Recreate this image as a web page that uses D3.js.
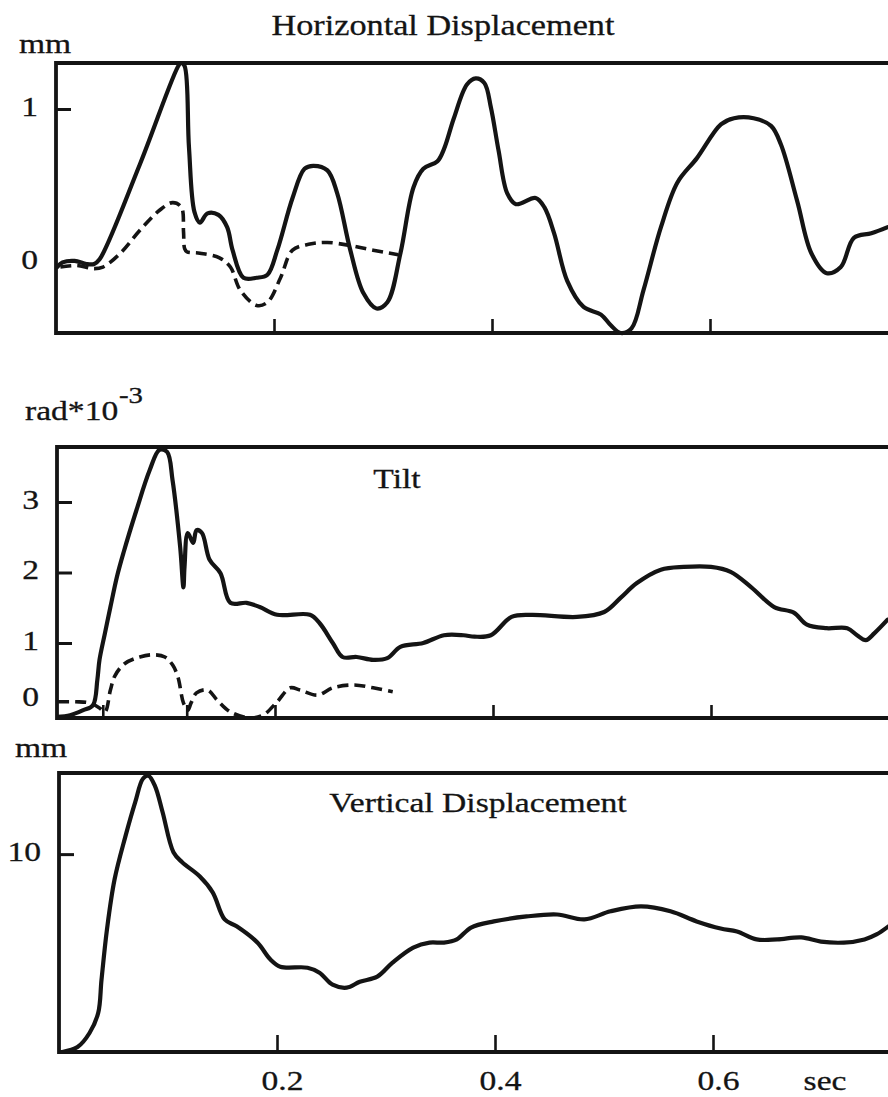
<!DOCTYPE html>
<html>
<head>
<meta charset="utf-8">
<script src="https://cdn.jsdelivr.net/npm/d3@7"></script>
<style>
  html, body { margin: 0; padding: 0; background: #ffffff; }
  svg { display: block; }
  text {
    font-family: "Liberation Serif", "Times New Roman", serif;
    fill: #141414;
    stroke: #141414;
    stroke-width: 0.3px;
  }
</style>
</head>
<body>
<svg id="chart" width="888" height="1097"></svg>
<script>
// ---- Data: time in seconds, values in panel units ----
const timeTicks = [0.2, 0.4, 0.6];
const tiltMarkTimes = [0.042, 0.119];
const horizTicks = [0, 1];
const tiltTicks = [0, 1, 2, 3];
const vertTicks = [10];

// Horizontal displacement (mm), solid trace
const horizontalSolid = [
  [0.001,-0.03],[0.006,0.00],[0.017,0.01],[0.028,-0.01],[0.035,-0.01],[0.040,0.02],
  [0.077,0.64],[0.113,1.29],[0.115,1.30],[0.118,1.28],[0.122,0.75],[0.127,0.33],
  [0.132,0.26],[0.139,0.32],[0.149,0.31],[0.157,0.23],[0.162,0.08],[0.172,-0.10],
  [0.184,-0.10],[0.194,-0.08],[0.203,0.08],[0.217,0.42],[0.228,0.61],[0.236,0.63],
  [0.249,0.60],[0.258,0.45],[0.270,0.08],[0.282,-0.20],[0.294,-0.30],[0.304,-0.26],
  [0.316,0.06],[0.328,0.49],[0.337,0.61],[0.350,0.66],[0.356,0.74],[0.365,0.94],
  [0.377,1.16],[0.385,1.20],[0.393,1.17],[0.399,1.01],[0.406,0.73],[0.414,0.45],
  [0.422,0.38],[0.440,0.42],[0.448,0.36],[0.457,0.19],[0.469,-0.12],[0.484,-0.29],
  [0.500,-0.34],[0.509,-0.41],[0.518,-0.46],[0.528,-0.43],[0.539,-0.18],[0.555,0.23],
  [0.570,0.52],[0.588,0.68],[0.610,0.90],[0.622,0.94],[0.640,0.94],[0.656,0.89],
  [0.665,0.77],[0.680,0.40],[0.693,0.06],[0.707,-0.07],[0.720,-0.03],[0.732,0.16],
  [0.748,0.19],[0.763,0.23]
];

// Horizontal displacement (mm), dashed trace
const horizontalDashed = [
  [0.004,-0.03],[0.019,-0.02],[0.034,-0.04],[0.043,-0.03],[0.059,0.06],[0.077,0.21],
  [0.095,0.34],[0.107,0.39],[0.115,0.36],[0.117,0.20],[0.118,0.09],[0.120,0.07],
  [0.132,0.06],[0.150,0.03],[0.160,-0.03],[0.169,-0.18],[0.184,-0.28],[0.194,-0.26],
  [0.206,-0.10],[0.217,0.08],[0.233,0.12],[0.249,0.13],[0.270,0.11],[0.291,0.08],
  [0.314,0.05]
];

// Tilt (rad*10^-3), solid trace
const tiltSolid = [
  [0.000,-0.32],[0.012,-0.29],[0.024,-0.20],[0.033,-0.11],[0.037,0.34],[0.039,0.70],
  [0.044,1.14],[0.049,1.51],[0.055,1.94],[0.061,2.28],[0.073,2.89],[0.085,3.45],
  [0.094,3.74],[0.101,3.71],[0.106,3.31],[0.113,2.36],[0.116,1.79],[0.117,2.08],
  [0.120,2.56],[0.125,2.42],[0.128,2.60],[0.133,2.56],[0.140,2.18],[0.150,1.99],
  [0.159,1.57],[0.174,1.57],[0.186,1.51],[0.202,1.40],[0.232,1.40],[0.241,1.28],
  [0.253,1.00],[0.262,0.75],[0.275,0.75],[0.290,0.70],[0.303,0.73],[0.315,0.93],
  [0.336,1.00],[0.355,1.11],[0.373,1.11],[0.383,1.09],[0.398,1.11],[0.417,1.37],
  [0.435,1.40],[0.477,1.37],[0.502,1.44],[0.517,1.64],[0.532,1.85],[0.554,2.04],
  [0.575,2.08],[0.600,2.08],[0.618,2.01],[0.637,1.79],[0.658,1.51],[0.676,1.43],
  [0.688,1.26],[0.706,1.21],[0.725,1.21],[0.734,1.11],[0.742,1.04],[0.750,1.14],
  [0.762,1.33]
];

// Tilt (rad*10^-3), dashed trace
const tiltDashed = [
  [0.001,-0.05],[0.017,-0.05],[0.030,-0.07],[0.039,-0.16],[0.044,-0.23],[0.049,0.16],
  [0.053,0.41],[0.062,0.63],[0.076,0.75],[0.088,0.79],[0.099,0.75],[0.106,0.61],
  [0.111,0.39],[0.116,-0.07],[0.120,-0.20],[0.123,-0.07],[0.128,0.11],[0.138,0.16],
  [0.147,-0.02],[0.159,-0.23],[0.177,-0.34],[0.189,-0.29],[0.202,-0.05],[0.214,0.20],
  [0.223,0.16],[0.239,0.07],[0.253,0.20],[0.272,0.25],[0.290,0.20],[0.308,0.13]
];

// Vertical displacement (mm)
const verticalSolid = [
  [0.003,0.00],[0.017,0.25],[0.028,0.96],[0.036,1.98],[0.039,3.65],[0.044,6.19],
  [0.051,8.73],[0.061,10.91],[0.070,12.64],[0.077,13.81],[0.082,13.96],[0.088,13.45],
  [0.095,12.13],[0.105,10.10],[0.113,9.59],[0.129,8.88],[0.141,8.07],[0.152,6.70],
  [0.163,6.35],[0.182,5.53],[0.194,4.67],[0.203,4.31],[0.228,4.26],[0.239,4.01],
  [0.251,3.40],[0.264,3.25],[0.276,3.55],[0.292,3.81],[0.306,4.52],[0.325,5.28],
  [0.340,5.53],[0.353,5.53],[0.365,5.69],[0.378,6.29],[0.399,6.60],[0.429,6.85],
  [0.457,6.95],[0.482,6.70],[0.506,7.11],[0.534,7.36],[0.561,7.11],[0.585,6.60],
  [0.607,6.24],[0.622,6.09],[0.640,5.69],[0.659,5.69],[0.681,5.79],[0.699,5.58],
  [0.720,5.53],[0.739,5.69],[0.750,5.94],[0.761,6.35]
];

// ---- Layout ----
const W = 888, H = 1097;
const FS = 28;        // base font size
const SX = 1.2;       // horizontal stretch of the lettering
const INK = "#141414";

const svg = d3.select("#chart");

function label(parent, x, y, str, opts = {}) {
  return parent.append("text")
    .attr("transform", `translate(${x},${y}) scale(${opts.sx || SX},1)`)
    .attr("font-size", opts.size || FS)
    .attr("text-anchor", opts.anchor || "start")
    .text(str);
}

const panels = [
  {
    key: "horizontal", x0: 56, top: 63, bottom: 333,
    y: d3.scaleLinear().domain([-0.46, 1.30]).range([333, 63]),
    yTicks: horizTicks, xTicks: timeTicks, xTickLen: 14,
    series: [{ data: horizontalSolid, dash: null }, { data: horizontalDashed, dash: "11,6" }]
  },
  {
    key: "tilt", x0: 57, top: 447, bottom: 718,
    // the printed tilt grid is not evenly spaced below 1
    y: d3.scaleLinear().domain([-0.34, 0, 1, 3, 3.78]).range([718, 699, 643, 502, 447]),
    yTicks: tiltTicks, xTicks: tiltMarkTimes.concat(timeTicks), xTickLen: 13,
    series: [{ data: tiltSolid, dash: null }, { data: tiltDashed, dash: "11,6" }]
  },
  {
    key: "vertical", x0: 59, top: 773, bottom: 1052,
    y: d3.scaleLinear().domain([0, 14.1]).range([1052, 773]),
    yTicks: vertTicks, xTicks: timeTicks, xTickLen: 17, xLabels: true,
    series: [{ data: verticalSolid, dash: null }]
  }
];

panels.forEach(p => {
  const x = d3.scaleLinear().domain([0, 0.6]).range([p.x0, p.x0 + 654]);
  const g = svg.append("g").attr("class", "panel-" + p.key);

  // clip traces to the frame
  const clipId = "clip-" + p.key;
  svg.append("clipPath").attr("id", clipId)
    .append("rect")
    .attr("x", p.x0).attr("y", p.top - 3)
    .attr("width", W - p.x0).attr("height", p.bottom - p.top + 6);

  const line = d3.line()
    .x(d => x(d[0]))
    .y(d => p.y(d[1]))
    .curve(d3.curveCatmullRom.alpha(0.5));

  const traces = g.append("g").attr("clip-path", `url(#${clipId})`);
  p.series.forEach(s => {
    traces.append("path")
      .datum(s.data)
      .attr("d", line)
      .attr("fill", "none")
      .attr("stroke", INK)
      .attr("stroke-width", s.dash ? 3.6 : 4.2)
      .attr("stroke-linejoin", "round")
      .attr("stroke-linecap", s.dash ? "butt" : "round")
      .attr("stroke-dasharray", s.dash);
  });

  // frame: left, top and bottom edges
  g.append("path")
    .attr("d", `M${W},${p.top}H${p.x0}V${p.bottom}H${W}`)
    .attr("fill", "none")
    .attr("stroke", INK)
    .attr("stroke-width", 3.8)
    .attr("stroke-linejoin", "miter");

  // y axis (ticks point inward)
  const yAxis = g.append("g")
    .attr("transform", `translate(${p.x0},0)`)
    .call(d3.axisLeft(p.y).tickValues(p.yTicks).tickSize(-15).tickPadding(18).tickFormat(d3.format("d")));
  yAxis.attr("font-size", null).attr("font-family", null);
  yAxis.select(".domain").remove();
  yAxis.selectAll(".tick line").attr("stroke", INK).attr("stroke-width", 3)
    .filter(d => d === 0).remove();
  yAxis.selectAll(".tick text")
    .attr("fill", INK)
    .attr("font-size", FS)
    .attr("x", -18 / SX)
    .attr("dy", "0.22em")
    .attr("transform", `scale(${SX},1)`);

  // time ticks along the bottom edge (pointing up)
  const xAxis = g.append("g")
    .attr("transform", `translate(0,${p.bottom})`)
    .call(d3.axisBottom(x).tickValues(p.xTicks).tickSize(-p.xTickLen).tickPadding(18)
      .tickFormat(d => (p.xLabels ? d3.format(".1f")(d) : "")));
  xAxis.attr("font-size", null).attr("font-family", null);
  xAxis.select(".domain").remove();
  xAxis.selectAll(".tick line").attr("stroke", INK).attr("stroke-width", 2.6);
  xAxis.selectAll(".tick text")
    .attr("fill", INK)
    .attr("font-size", FS)
    .attr("x", 5 / SX)
    .attr("transform", `scale(${SX},1)`);
});

// ---- Titles and units ----
label(svg, 443, 35, "Horizontal Displacement", { anchor: "middle", size: 29, sx: 1.18 });
label(svg, 19, 53, "mm");

label(svg, 25, 420, "rad*10");
label(svg, 119, 403, "-3", { size: 24 });
label(svg, 397, 488, "Tilt", { anchor: "middle" });

label(svg, 15, 757, "mm");
label(svg, 478, 812, "Vertical Displacement", { anchor: "middle" });

label(svg, 825, 1090, "sec", { anchor: "middle" });
</script>
</body>
</html>
